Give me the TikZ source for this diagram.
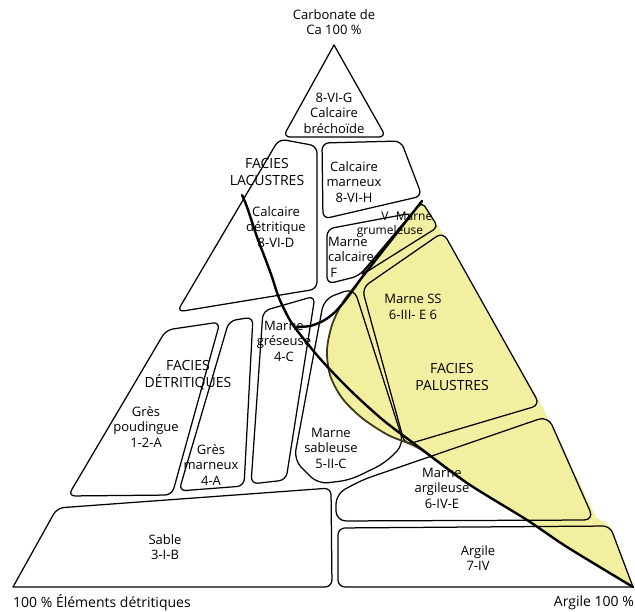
\documentclass[tikz,border=0pt]{standalone}
\usepackage{fontspec}
\setmainfont{Open Sans}
\usepackage{xcolor}
\usepackage{tikz}
\definecolor{palustre}{RGB}{243,239,160}
\definecolor{bordlentille}{RGB}{62,60,25}

\begin{document}
\begin{tikzpicture}[x=1pt, y=-1pt,
    zone/.style={line width=1.25pt, rounded corners=7pt, line join=round, line cap=round},
    limite/.style={line width=2.4pt, line join=round, line cap=round},
    lab/.style={align=center, inner sep=0pt, font=\fontsize{13}{15.5}\selectfont},
    petit/.style={inner sep=0pt, font=\fontsize{12}{13}\selectfont},
    pole/.style={inner sep=0pt, font=\fontsize{14}{16}\selectfont},
    facies/.style={align=center, inner sep=0pt, font=\fontsize{14}{17}\selectfont}]

    \useasboundingbox (0,0) rectangle (635,612);

    % Facies palustres (fond jaune)
    \fill[palustre] (422,201) -- (438,226) -- (541,404) -- (596,517) -- (611,527) -- (633,587)
        -- plot[smooth] coordinates {(633,587) (567,547) (527,520) (467,483) (420,449) (388,435)
           (362,418) (342,398) (330,375) (327,350) (332,325) (343,302) (360,280)} -- cycle;

    % Sommet
    \node[lab] (carbonate) at (334,22) {Carbonate de\\Ca 100 \%};

    % Calcaire brechoide
    \draw[zone] (334,45) -- (386,137) -- (283,137) -- (334,45);
    \node[lab] (brechoide) at (334,113) {8-VI-G\\Calcaire\\bréchoïde};

    % Calcaire detritique
    \draw[zone] (279,139) -- (317,146) -- (317,289) -- (177,312) -- cycle;
    \node[facies] (lacustres) at (267,172) {FACIES\\LACUSTRES};
    \node[lab] (detritique) at (276,227) {Calcaire\\détritique\\8-VI-D};

    % Calcaire marneux
    \draw[zone] (322,143) -- (401,141) -- (422,196) -- (323,219) -- cycle;
    \node[lab] (calcmarneux) at (354,182) {Calcaire\\marneux\\8-VI-H};

    % Marne calcaire
    \draw[zone] (327,229) -- (412,213) -- (359,276) -- (327,284) -- cycle;
    \node[lab, align=left, anchor=north west] (marnecalc) at (328,237) {Marne\\calcaire\\\,F};

    % Marne grumeleuse
    \draw[zone, rounded corners=5pt] (360,276) -- (422,202) -- (438,227) -- cycle;
    \node[petit] (grumV) at (385,216) {V};
    \node[petit] (grumM) at (414,216) {Marne};
    \node[petit] (grumeleuse) at (390,231) {grumeleuse};

    % Marne SS
    \draw[zone, rounded corners=8pt] (443,232) -- (540,405) -- (405,445) -- (362,288) -- cycle;
    \node[lab] (marness) at (413,307) {Marne SS\\6-III- E 6};
    \node[facies] (palustres) at (452,377) {FACIES\\PALUSTRES};

    % Gres poudingue
    \draw[zone] (166,330) -- (220,322) -- (172,495) -- (68,496) -- cycle;
    \node[facies] (detritiques) at (188,375) {FACIES\\DÉTRITIQUES};
    \node[lab] (poudingue) at (146,427) {Grès\\poudingue\\1-2-A};

    % Gres marneux
    \draw[zone] (229,321) -- (253,317) -- (244,486) -- (179,491) -- cycle;
    \node[lab] (gresmarneux) at (211,465) {Grès\\marneux\\4-A};

    % Marne greseuse
    \draw[zone] (263,311) -- (315,296) -- (286,480) -- (251,484) -- cycle;
    \node[lab] (greseuse) at (284,341) {Marne\\gréseuse\\4-C};

    % Marne sableuse
    \draw[zone, rounded corners=10pt] (324,299) -- (354,288) -- (404,444) -- (385,463) -- (350,480)
        -- (318,484) -- (294,460) -- cycle;
    \node[lab] (sableuse) at (331,448) {Marne\\sableuse\\5-II-C};

    % Marne argileuse
    \draw[zone, rounded corners=10pt] (336,521) -- (336,494) -- (362,480) -- (548,416) -- (594,520) -- cycle;
    \node[lab] (argileuse) at (442,488) {Marne\\argileuse\\6-IV-E};

    % Sable
    \draw[zone] (13,587) -- (57,508) -- (331,488) -- (332,587) -- (13,587);
    \node[lab] (sable) at (165,547) {Sable\\3-I-B};

    % Argile
    \draw[zone] (633,587) -- (338,587) -- (338,528) -- (610,526) -- (633,587);
    \node[lab] (argile) at (478,558) {Argile\\7-IV};

    % Limites de facies
    \draw[line width=1.8pt, bordlentille] plot[smooth] coordinates {(360,280) (343,302) (332,325)
        (327,350) (330,375) (342,398) (362,418) (388,435) (420,449) (467,483)};
    \draw[limite] plot[smooth] coordinates {(242,195) (247,207) (257,237) (265,258) (272,277)
        (279,298) (291,322) (307,343) (323,362) (350,390) (383,420) (420,448) (467,483)
        (527,520) (567,547) (633,587)};
    \draw[limite] plot[smooth] coordinates {(296,327) (310,326) (323,321) (334,313) (344,302)
        (353,290) (360,280)} -- (422,201);

    % Poles
    \node[pole, anchor=west] (detritiques100) at (13,603) {100 \% Éléments détritiques};
    \node[pole, anchor=east] (argile100) at (634,603) {Argile 100 \%};
\end{tikzpicture}
\end{document}
